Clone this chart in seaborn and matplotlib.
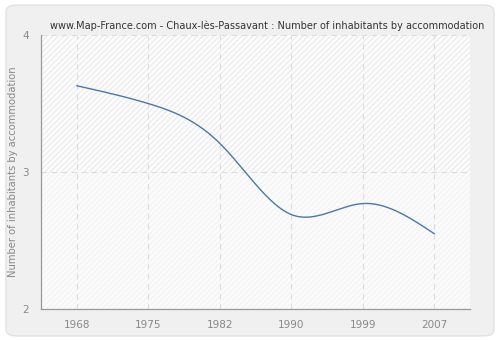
import numpy as np
import pandas as pd
import seaborn as sns
import matplotlib
matplotlib.use("Agg")
import matplotlib.pyplot as plt
from matplotlib.patches import FancyBboxPatch

years = ["1968", "1975", "1982", "1990", "1999", "2007"]
values = [3.63, 3.50, 3.21, 2.69, 2.77, 2.55]
y_ticks = [2, 3, 4]
title = "www.Map-France.com - Chaux-lès-Passavant : Number of inhabitants by accommodation"
y_label = "Number of inhabitants by accommodation"


def natural_spline(x, y, n=300):
    x = np.asarray(x, float)
    y = np.asarray(y, float)
    k = len(x)
    h = np.diff(x)
    A = np.zeros((k, k))
    b = np.zeros(k)
    A[0, 0] = A[-1, -1] = 1
    for i in range(1, k - 1):
        A[i, i - 1] = h[i - 1]
        A[i, i] = 2 * (h[i - 1] + h[i])
        A[i, i + 1] = h[i]
        b[i] = 6 * ((y[i + 1] - y[i]) / h[i] - (y[i] - y[i - 1]) / h[i - 1])
    M = np.linalg.solve(A, b)
    xs = np.linspace(x[0], x[-1], n)
    ys = np.empty_like(xs)
    for j, t in enumerate(xs):
        i = min(np.searchsorted(x, t, side="right") - 1, k - 2)
        dx1 = x[i + 1] - t
        dx0 = t - x[i]
        ys[j] = (M[i] * dx1 ** 3 / (6 * h[i]) + M[i + 1] * dx0 ** 3 / (6 * h[i])
                 + (y[i] / h[i] - M[i] * h[i] / 6) * dx1
                 + (y[i + 1] / h[i] - M[i + 1] * h[i] / 6) * dx0)
    return xs, ys


sns.set_theme(style="white")
plt.rcParams["font.family"] = ["DejaVu Sans"]
plt.rcParams["hatch.linewidth"] = 0.6

fig = plt.figure(figsize=(5, 3.4), dpi=100)
fig.patch.set_facecolor("white")
bg = FancyBboxPatch((0.012, 0.012), 0.976, 0.973, boxstyle="round,pad=0,rounding_size=0.02",
                    transform=fig.transFigure, facecolor="#f0f0f0", edgecolor="#e2e2e2",
                    linewidth=1, zorder=-10)
fig.patches.append(bg)

ax = fig.add_axes([0.082, 0.091, 0.858, 0.806])
ax.set_zorder(1)
ax.set_facecolor("#fbfbfb")

idx = np.arange(len(years))
xs, ys = natural_spline(idx, values)
df = pd.DataFrame({"x": xs, "y": ys})

ax.axhspan(3, 4, facecolor="#fcfcfc", hatch="//////", edgecolor="#e6e6e6", linewidth=0, zorder=0)
ax.axhspan(2, 3, facecolor="#fbfbfb", hatch="//////", edgecolor="#f1f1f1", linewidth=0, zorder=0)

for i in idx:
    ax.axvline(i, color="#dddddd", linestyle=(0, (5, 4)), linewidth=0.8, zorder=1)
for yv in y_ticks:
    ax.axhline(yv, color="#dddddd", linestyle=(0, (5, 4)), linewidth=0.8, zorder=1)

sns.lineplot(data=df, x="x", y="y", ax=ax, color="#4a78aa", linewidth=1.0, zorder=3)

ax.set_xlim(-0.5, 5.5)
ax.set_ylim(2, 4)
ax.set_xticks(idx)
ax.set_xticklabels(years)
ax.set_yticks(y_ticks)
ax.set_yticklabels([str(v) for v in y_ticks])
ax.tick_params(axis="both", colors="#888888", labelsize=7.5, length=5, width=0.8,
               direction="out", labelcolor="#888888")
ax.tick_params(axis="x", pad=3)
ax.set_xlabel("")
ax.set_ylabel(y_label, color="#888888", fontsize=7.2, labelpad=3)
for s in ["top", "right"]:
    ax.spines[s].set_visible(False)
for s in ["left", "bottom"]:
    ax.spines[s].set_color("#999999")
    ax.spines[s].set_linewidth(0.9)

fig.text(0.534, 0.925, title, ha="center", va="center", fontsize=7.0, color="#333333")

fig.savefig("out.png", dpi=100)
